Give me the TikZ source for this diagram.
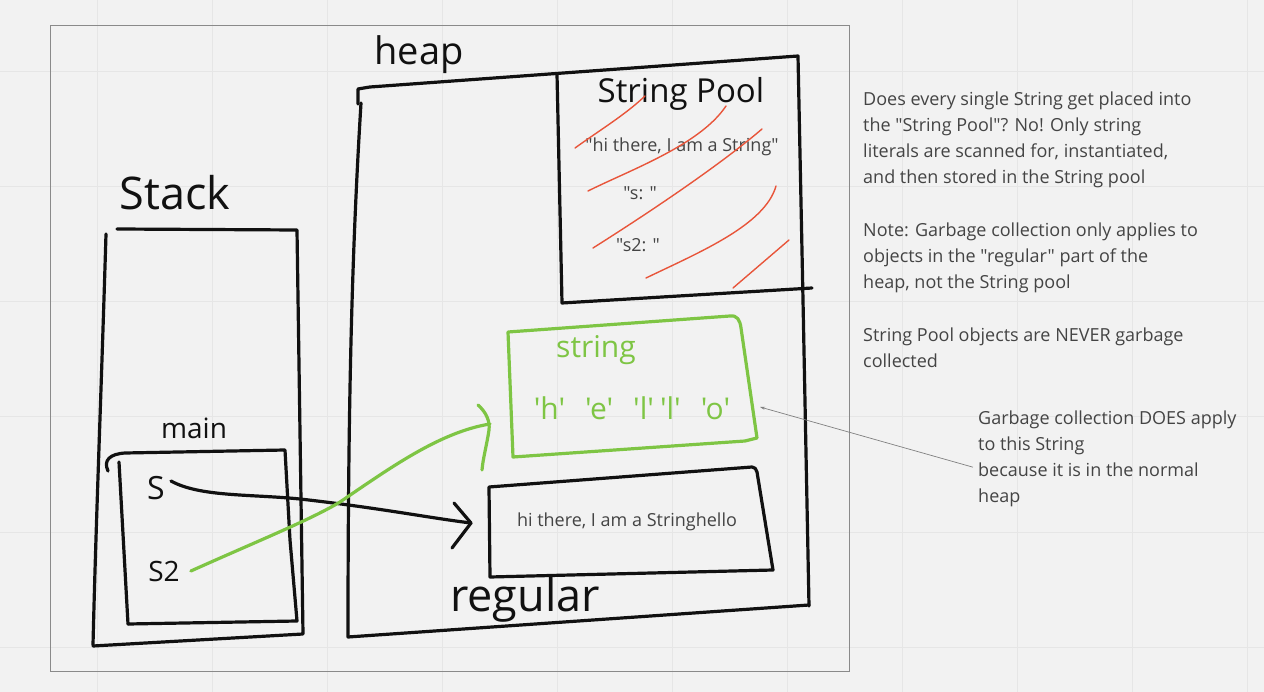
\documentclass[tikz,border=0pt]{standalone}
\usepackage{fontspec}
\setmainfont{Open Sans}[Ligatures=TeXOff]
\usetikzlibrary{arrows.meta}
\definecolor{bg}{HTML}{F2F2F2}
\definecolor{gridc}{HTML}{E6E6E6}
\definecolor{ink}{HTML}{111111}
\definecolor{grn}{HTML}{7EC544}
\definecolor{redl}{HTML}{E8553A}
\definecolor{txt}{HTML}{444444}
\definecolor{framec}{HTML}{8A8A8A}
\begin{document}
\begin{tikzpicture}[x=1pt,y=-1pt,
  pen/.style={draw=ink,line width=3.2pt,line cap=round,line join=round},
  gpen/.style={draw=grn,line width=3.2pt,line cap=round,line join=round},
  rpen/.style={draw=redl,line width=1.4pt,line cap=round},
  hand/.style={text=ink,font=\fontsize{#1}{#1}\selectfont,inner sep=0pt},
  ghand/.style={text=grn,font=\fontsize{#1}{#1}\selectfont,inner sep=0pt},
  note/.style={text=txt,font=\fontsize{18}{26}\selectfont,align=left,anchor=north west,inner sep=0pt},
  ptext/.style={text=txt,font=\fontsize{18}{20}\selectfont,inner sep=0pt},
]
\useasboundingbox (0,0) rectangle (1264,692);
\fill[bg] (0,0) rectangle (1264,692);
% grid
\foreach \gx in {97,212,...,1247} \draw[gridc,line width=1pt] (\gx,0) -- (\gx,692);
\foreach \gy in {72,187,...,650} \draw[gridc,line width=1pt] (0,\gy) -- (1264,\gy);
% frame
\draw[framec,line width=1pt] (50,26) rectangle (849,671);

% stack
\draw[pen] (106,234) .. controls (101,400) and (96,520) .. (93,645);
\draw[pen] (117,229) -- (297,230) -- (303,634) -- (93,646);
\node[hand=45] (stacklbl) at (175,193) {Stack};

% main frame
\draw[pen] (108,471) .. controls (103,460) and (110,454) .. (125,453) -- (285,450) -- (290,540) -- (297,621) -- (128,624);
\draw[pen] (119,462) -- (128,624);
\node[hand=28] (mainlbl) at (194,428) {main};
\node[hand=32] (s) at (156,488) {S};
\node[hand=28] (s2) at (164,571) {S2};

% heap
\draw[pen] (358,104) -- (358,89) -- (370,87) -- (798,56) -- (803,300) -- (809,606);
\draw[pen] (361,103) .. controls (352,250) and (348,400) .. (348,637) -- (809,605);
\node[hand=38] (heaplbl) at (419,55) {heap};

% string pool
\draw[pen] (557,74) -- (562,303) -- (812,288);
\node[hand=33] (poollbl) at (681,94) {String Pool};
\node[ptext] (lit1) at (682,147) {"hi there, I am a String"};
\node[ptext] (lit2) at (640,193) {"s: "};
\node[ptext] (lit3) at (638,245) {"s2: "};
\draw[rpen] (575,148) .. controls (600,130) and (625,115) .. (645,96);
\draw[rpen] (588,191) .. controls (630,170) and (700,145) .. (726,106);
\draw[rpen] (593,248) .. controls (650,212) and (720,165) .. (762,129);
\draw[rpen] (646,278) .. controls (700,252) and (765,225) .. (776,186);
\draw[rpen] (733,288) -- (789,240);

% green string object
\draw[gpen] (508,332) -- (730,316) .. controls (737,315) and (740,320) .. (741,328) -- (757,438) -- (745,441) -- (513,457) -- cycle;
\node[ghand=30] (strlbl) at (596,350) {string};
\node[ghand=30] (chars) at (632,408) {'h'\hspace{20pt}'e'\hspace{20pt}'l'\hspace{6pt}'l'\hspace{20pt}'o'};
\coordinate (gtip) at (490,424);

% regular object
\draw[pen] (489,487) -- (752,467) .. controls (755,467) and (756,469) .. (757,472) -- (773,570) -- (490,577) -- cycle;
\node[ptext] (regtext) at (627,522) {hi there, I am a Stringhello};
\node[hand=45] (reglbl) at (525,600) {regular};
\coordinate (btip) at (471,523);

% references
\draw[pen] (s.east) ++(6,-7) .. controls (200,497) and (250,494) .. (300,499) .. controls (380,508) and (430,518) .. (btip);
\draw[pen] ([shift={(-17,-20)}]btip) -- (btip) -- ([shift={(-19,25)}]btip);
\draw[gpen] (s2.east) ++(11,0) .. controls (260,540) and (310,520) .. (340,502) .. controls (390,468) and (440,432) .. (gtip);
\draw[gpen] ([shift={(-12,-19)}]gtip) .. controls ([shift={(-3,-11)}]gtip) and ([shift={(0,-2)}]gtip) .. ([shift={(-1,6)}]gtip) .. controls ([shift={(-3,20)}]gtip) and ([shift={(-7,34)}]gtip) .. ([shift={(-8,46)}]gtip);

% notes
\node[note] (note1) at (863,92) {Does every single String get placed into\\the "String Pool"? No! Only string\\literals are scanned for, instantiated,\\and then stored in the String pool};
\node[note] (note2) at (863,223) {Note: Garbage collection only applies to\\objects in the "regular" part of the\\heap, not the String pool};
\node[note] (note3) at (863,328) {String Pool objects are NEVER garbage\\collected};
\node[note] (note4) at (978,411) {Garbage collection DOES apply\\to this String\\because it is in the normal\\heap};
\coordinate (gright) at (760,407);
\draw[gray,line width=0.7pt,-{Stealth[length=5pt,width=3pt]}] (note4.west) ++(-5,8) -- (gright);
\end{tikzpicture}
\end{document}
